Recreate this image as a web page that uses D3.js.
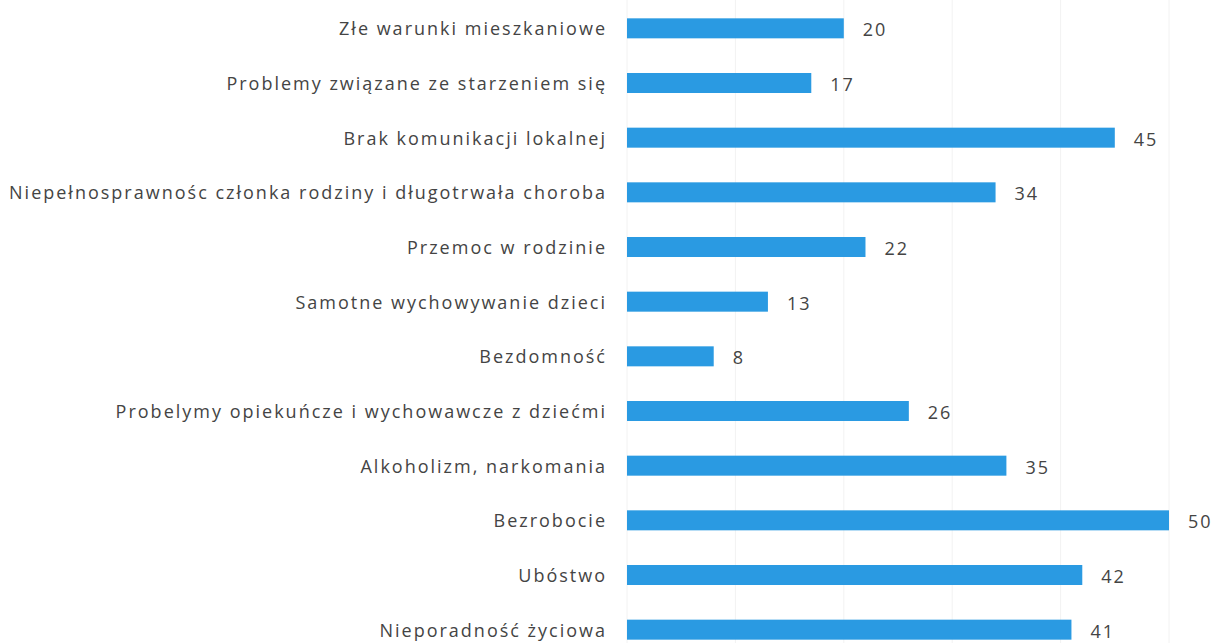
<!DOCTYPE html>
<meta charset="utf-8">
<style>
body {
  margin: 0;
  background: #fff;
}
text {
  font-family: "Open Sans", sans-serif;
  fill: #444;
  letter-spacing: 2px;
}
</style>
<body>
<script src="https://cdn.jsdelivr.net/npm/d3@7"></script>
<script>

var width = 1218,
    height = 643;

var categories = [
  "Złe warunki mieszkaniowe",
  "Problemy związane ze starzeniem się",
  "Brak komunikacji lokalnej",
  "Niepełnosprawnośc członka rodziny i długotrwała choroba",
  "Przemoc w rodzinie",
  "Samotne wychowywanie dzieci",
  "Bezdomność",
  "Probelymy opiekuńcze i wychowawcze z dziećmi",
  "Alkoholizm, narkomania",
  "Bezrobocie",
  "Ubóstwo",
  "Nieporadność życiowa"
];

var values = [20, 17, 45, 34, 22, 13, 8, 26, 35, 50, 42, 41];

var gridTicks = [0, 10, 20, 30, 40, 50];

var x0 = 627;

var x = d3.scaleLinear()
  .domain([0, 50])
  .range([x0, 1169]);

var y = d3.scaleBand()
  .domain(categories)
  .range([1, 657])
  .paddingInner(0.634)
  .paddingOuter(0.317);

var svg = d3.select("body").append("svg")
    .attr("width", width)
    .attr("height", height);

// faint vertical grid
svg.append("g").selectAll("line")
  .data(gridTicks)
  .enter().append("line")
    .attr("x1", function(d) { return x(d); })
    .attr("x2", function(d) { return x(d); })
    .attr("y1", 0)
    .attr("y2", height)
    .style("stroke", "#f2f2f2")
    .style("stroke-width", 1);

var rows = svg.append("g").selectAll("g")
  .data(categories)
  .enter().append("g");

rows.append("rect")
  .attr("x", x0)
  .attr("y", function(d) { return y(d); })
  .attr("width", function(d, i) { return x(values[i]) - x0; })
  .attr("height", y.bandwidth())
  .style("fill", "#2a9ae2");

rows.append("text")
  .attr("x", 607)
  .attr("y", function(d) { return y(d) + y.bandwidth() / 2 + 7; })
  .attr("text-anchor", "end")
  .style("font-size", "18px")
  .text(function(d) { return d; });

rows.append("text")
  .attr("x", function(d, i) { return x(values[i]) + 19; })
  .attr("y", function(d) { return y(d) + y.bandwidth() / 2 + 8; })
  .style("font-size", "18px")
  .text(function(d, i) { return values[i]; });

</script>
